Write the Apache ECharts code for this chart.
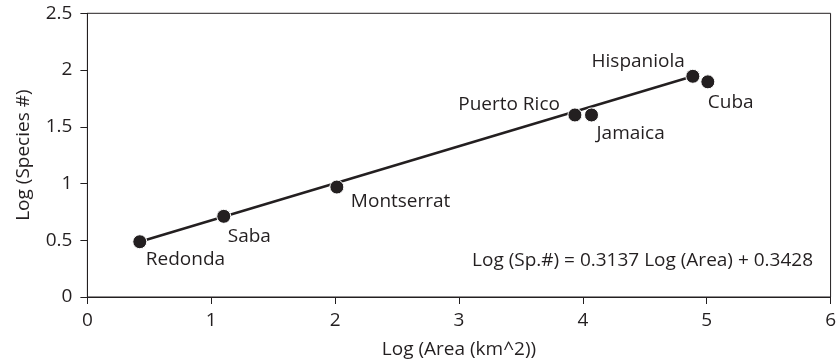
<!DOCTYPE html>
<html>
<head>
<meta charset="utf-8">
<script src="https://cdn.jsdelivr.net/npm/echarts@6/dist/echarts.min.js"></script>
<style>html,body{margin:0;padding:0;background:#fff}#c{width:839px;height:364px}</style>
</head>
<body>
<div id="c"></div>
<script>
var islands = ["Redonda", "Saba", "Montserrat", "Puerto Rico", "Jamaica", "Hispaniola", "Cuba"];
var logArea = [0.423, 1.101, 2.014, 3.936, 4.070, 4.888, 5.009];
var logSpecies = [0.487, 0.711, 0.969, 1.604, 1.604, 1.945, 1.896];
var xTicks = [0, 1, 2, 3, 4, 5, 6];
var yTicks = [0, 0.5, 1, 1.5, 2, 2.5];
var equationText = "Log (Sp.#) = 0.3137 Log (Area) + 0.3428";
// fitted line drawn from the first to the sixth island
var lineIdx = [0, 5];

var labelOffsets = {
  "Redonda": {align: "left", offset: [6, 18]},
  "Saba": {align: "left", offset: [4, 20]},
  "Montserrat": {align: "left", offset: [14, 14.5]},
  "Puerto Rico": {align: "right", offset: [-15, -10]},
  "Jamaica": {align: "left", offset: [5, 19]},
  "Hispaniola": {align: "right", offset: [-8, -15]},
  "Cuba": {align: "left", offset: [0, 21]}
};

var ink = "#231f20";
var font = "'Open Sans', sans-serif";
var fs = 19;

var pts = islands.map(function (n, i) {
  var o = labelOffsets[n];
  return {
    value: [logArea[i], logSpecies[i]],
    name: n,
    label: {show: true, formatter: n, position: "inside", align: o.align, verticalAlign: "middle", offset: o.offset,
      color: ink, fontFamily: font, fontSize: fs, opacity: 1}
  };
});

var chart = echarts.init(document.getElementById("c"));
chart.setOption({
  animation: false,
  grid: {left: 87.4, right: 6.3, top: 13.3, bottom: 65, show: true, borderColor: ink, borderWidth: 1, backgroundColor: "transparent"},
  xAxis: {
    type: "value", min: xTicks[0], max: xTicks[xTicks.length - 1], interval: 1,
    name: "Log (Area (km^2))", nameLocation: "middle", nameGap: 43,
    nameTextStyle: {color: ink, fontFamily: font, fontSize: fs},
    axisLine: {show: true, lineStyle: {color: ink, width: 1}},
    axisTick: {show: true, inside: false, length: 7, lineStyle: {color: ink}},
    axisLabel: {color: ink, fontFamily: font, fontSize: fs, margin: 14},
    splitLine: {show: false}
  },
  yAxis: {
    type: "value", min: yTicks[0], max: yTicks[yTicks.length - 1], interval: 0.5,
    name: "Log (Species #)", nameLocation: "middle", nameGap: 54,
    nameTextStyle: {color: ink, fontFamily: font, fontSize: fs},
    axisLine: {show: true, lineStyle: {color: ink, width: 1}},
    axisTick: {show: true, inside: false, length: 7, lineStyle: {color: ink}},
    axisLabel: {color: ink, fontFamily: font, fontSize: fs, margin: 15},
    splitLine: {show: false}
  },
  title: {
    text: equationText, right: 21, top: 246,
    textStyle: {color: ink, fontFamily: font, fontSize: fs, fontWeight: "normal"}
  },
  series: [
    {
      type: "line",
      data: lineIdx.map(function (i) { return [logArea[i], logSpecies[i]]; }),
      symbol: "none",
      lineStyle: {color: ink, width: 2.5, opacity: 1},
      z: 1
    },
    {
      type: "scatter",
      data: pts,
      symbol: "circle",
      symbolSize: 14,
      itemStyle: {color: ink, borderColor: "#fff", borderWidth: 1, opacity: 1},
      emphasis: {disabled: true},
      z: 2
    }
  ]
});
</script>
</body>
</html>
